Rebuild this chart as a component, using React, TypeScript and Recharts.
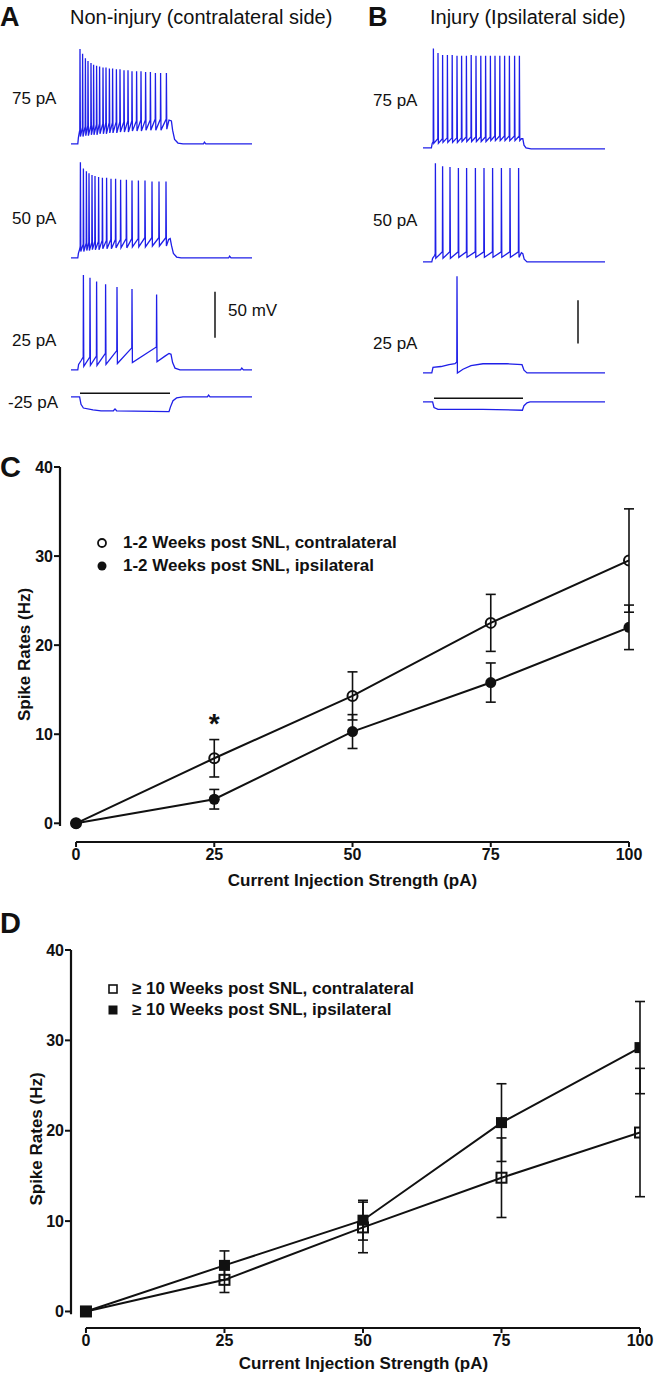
import { ErrorBar, Label, Legend, Line, LineChart, ReferenceDot, ReferenceLine, XAxis, YAxis } from 'recharts'

const FONT = '"Liberation Sans", Arial, Helvetica, sans-serif'
const INK = '#111'
const TRACE_BLUE = '#1f1fe8'

// ---- panels A / B: whole-cell current-clamp sweeps (time in ms, Vm in mV) ----
type Pt = [number, number]
type Sweep = {
  pre: Pt[]
  times: number[]
  onsets: number[]
  peaks: number[]
  troughs: number[]
  post: Pt[]
}

const A_75: Sweep = {
  pre: [[0, -65], [34, -65], [37, -58], [42, -52]],
  times: [45, 58, 72, 85, 100, 113, 128, 143, 160, 175, 192, 208, 227, 245, 265, 285, 305, 328, 350, 373, 397, 422, 448, 477],
  onsets: [-50, -47, -46, -45, -45, -44, -44, -43, -43, -42, -42, -42, -41, -41, -41, -40, -40, -40, -39, -39, -39, -38, -38, -38],
  peaks: [38, 33, 28, 25, 23, 21, 20, 19, 18, 18, 17, 17, 16, 16, 15, 15, 14, 14, 14, 13, 13, 12, 12, 12],
  troughs: [-57, -57, -56, -56, -55, -55, -55, -54, -54, -54, -53, -53, -53, -52, -52, -52, -51, -51, -51, -50, -50, -50, -50, -49],
  post: [[490, -39], [502, -40], [508, -50], [518, -60], [535, -64], [560, -65], [662, -65], [667, -63], [674, -65], [905, -65]],
}

const A_50: Sweep = {
  pre: [[0, -65], [34, -65], [37, -60], [44, -55]],
  times: [47, 62, 77, 90, 105, 120, 138, 157, 178, 200, 223, 248, 277, 305, 337, 370, 405, 440, 475],
  onsets: [-52, -50, -49, -48, -48, -47, -47, -46, -46, -45, -45, -45, -44, -44, -44, -43, -43, -43, -43],
  peaks: [39, 32, 29, 27, 25, 24, 23, 22, 22, 21, 21, 20, 20, 19, 19, 19, 18, 18, 18],
  troughs: [-58, -58, -57, -57, -56, -56, -56, -55, -55, -55, -54, -54, -54, -53, -53, -53, -52, -52, -52],
  post: [[488, -45], [496, -44], [503, -52], [512, -60], [528, -64], [550, -65], [788, -65], [793, -63], [800, -65], [905, -65]],
}

const A_25: Sweep = {
  pre: [[0, -65], [34, -65], [38, -59], [50, -55]],
  times: [62, 95, 128, 173, 230, 305, 428],
  onsets: [-51, -51, -50, -47, -44, -41, -40],
  peaks: [38, 35, 31, 28, 25, 23, 17],
  troughs: [-61, -60, -60, -59, -58, -57, -56],
  post: [[470, -50], [490, -47], [500, -48], [508, -57], [520, -63], [545, -65], [848, -65], [854, -63], [862, -65], [905, -65]],
}

const A_NEG25: Sweep = {
  pre: [[0, -65], [43, -65], [50, -73], [62, -77], [110, -79], [150, -80], [212, -80], [220, -78], [228, -80], [490, -81]],
  times: [],
  onsets: [],
  peaks: [],
  troughs: [],
  post: [[497, -76], [510, -69], [528, -66], [560, -65], [682, -65], [688, -63], [695, -65], [905, -65]],
}

const B_75: Sweep = {
  pre: [[0, -65], [42, -65], [46, -60]],
  times: [52, 75, 98, 122, 146, 170, 193, 217, 241, 265, 289, 313, 337, 360, 384, 408, 432, 458, 482],
  onsets: [-58, -55, -55, -54, -54, -54, -54, -53, -53, -53, -53, -53, -53, -52, -52, -52, -52, -52, -52],
  peaks: [43, 38, 36, 36, 36, 35, 35, 35, 36, 35, 35, 35, 35, 35, 35, 35, 35, 35, 35],
  troughs: [-60, -60, -59, -59, -59, -59, -58, -58, -58, -58, -58, -58, -57, -57, -57, -57, -57, -57, -57],
  post: [[492, -55], [499, -55], [505, -62], [515, -65], [540, -66], [910, -66]],
}

const B_50: Sweep = {
  pre: [[0, -65], [44, -65], [48, -61], [58, -58]],
  times: [62, 98, 135, 177, 218, 262, 305, 348, 392, 435, 478],
  onsets: [-56, -54, -54, -54, -54, -54, -54, -54, -54, -54, -54],
  peaks: [42, 39, 38, 37, 37, 37, 37, 37, 37, 37, 37],
  troughs: [-61, -61, -61, -60, -60, -60, -60, -60, -60, -60, -60],
  post: [[492, -55], [499, -56], [506, -62], [520, -65], [910, -65]],
}

const B_25: Sweep = {
  pre: [[0, -65], [44, -65], [50, -59], [90, -58], [130, -56], [160, -55]],
  times: [170],
  onsets: [-53],
  peaks: [40],
  troughs: [-65],
  post: [[200, -61], [240, -57], [300, -55], [420, -55], [495, -56], [505, -62], [520, -65], [910, -65]],
}

const B_NEG25: Sweep = {
  pre: [[0, -65], [48, -65], [55, -71], [75, -73], [300, -73], [497, -74]],
  times: [],
  onsets: [],
  peaks: [],
  troughs: [],
  post: [[505, -69], [520, -66], [535, -65], [910, -65]],
}

// ---- panels C / D: spike rate (Hz, mean and SEM) against injected current ----
const CURRENT_PA = [0, 25, 50, 75, 100]
const RATE_TICKS = [0, 10, 20, 30, 40]

const C_CONTRA = [0, 7.3, 14.3, 22.5, 29.5]
const C_CONTRA_SEM = [0, 2.1, 2.7, 3.2, 5.8]
const C_IPSI = [0, 2.7, 10.3, 15.8, 22.0]
const C_IPSI_SEM = [0, 1.1, 1.9, 2.2, 2.5]

const D_CONTRA = [0, 3.5, 9.3, 14.8, 19.8]
const D_CONTRA_SEM = [0, 1.4, 2.8, 4.4, 7.1]
const D_IPSI = [0, 5.1, 10.1, 20.9, 29.2]
const D_IPSI_SEM = [0, 1.6, 2.2, 4.3, 5.1]

const C_ROWS = CURRENT_PA.map((x, i) => ({
  x,
  contra: C_CONTRA[i],
  contraErr: C_CONTRA_SEM[i],
  ipsi: C_IPSI[i],
  ipsiErr: C_IPSI_SEM[i],
}))

const D_ROWS = CURRENT_PA.map((x, i) => ({
  x,
  contra: D_CONTRA[i],
  contraErr: D_CONTRA_SEM[i],
  ipsi: D_IPSI[i],
  ipsiErr: D_IPSI_SEM[i],
}))

function sweepPoints(s: Sweep) {
  const pts = s.pre.map(([t, v]) => ({ t, v }))
  s.times.forEach((t, i) => {
    pts.push({ t: t - 1, v: s.onsets[i] }, { t, v: s.peaks[i] }, { t: t + 2, v: s.troughs[i] })
  })
  s.post.forEach(([t, v]) => pts.push({ t, v }))
  return pts
}

type SweepProps = {
  sweep: Sweep
  left: number
  top: number
  width: number
  span: number
  holdBar?: [number, number]
  scaleBar?: [number, number, number]
}

function SweepChart({ sweep, left, top, width, span, holdBar, scaleBar }: SweepProps) {
  return (
    <div style={{ position: 'absolute', left, top }}>
      <LineChart width={width} height={129} data={sweepPoints(sweep)} margin={{ top: 0, right: 0, bottom: 0, left: 0 }}>
        <XAxis type="number" dataKey="t" domain={[0, span]} allowDataOverflow hide />
        <YAxis type="number" domain={[-90, 50]} allowDataOverflow hide />
        <Line
          type="linear"
          dataKey="v"
          stroke={TRACE_BLUE}
          strokeWidth={1.3}
          dot={false}
          activeDot={false}
          isAnimationActive={false}
        />
        {holdBar && (
          <ReferenceLine
            segment={[{ x: holdBar[0], y: -61 }, { x: holdBar[1], y: -61 }]}
            stroke={INK}
            strokeWidth={1.5}
            ifOverflow="visible"
          />
        )}
        {scaleBar && (
          <ReferenceLine
            segment={[{ x: scaleBar[0], y: scaleBar[1] }, { x: scaleBar[0], y: scaleBar[2] }]}
            stroke="#222"
            strokeWidth={1.6}
            ifOverflow="visible"
          />
        )}
      </LineChart>
    </div>
  )
}

type Marker = 'openCircle' | 'filledCircle' | 'openSquare' | 'filledSquare'

function markerIcon(kind: Marker) {
  if (kind === 'openCircle') return <circle cx={6} cy={6} r={4} fill="none" stroke={INK} strokeWidth={1.8} />
  if (kind === 'filledCircle') return <circle cx={6} cy={6} r={4.5} fill={INK} />
  if (kind === 'openSquare') return <rect x={2} y={2} width={8} height={8} fill="none" stroke={INK} strokeWidth={1.6} />
  return <rect x={1.5} y={1.5} width={9} height={9} fill={INK} />
}

function seriesDot(kind: Marker) {
  return (props: any) => {
    const { cx, cy, index } = props
    if (cx == null || cy == null) return <g key={`n-${index}`} />
    if (kind === 'openCircle')
      return <circle key={`oc-${index}`} cx={cx} cy={cy} r={5} fill="none" stroke={INK} strokeWidth={2} />
    if (kind === 'filledCircle') return <circle key={`fc-${index}`} cx={cx} cy={cy} r={5.5} fill={INK} />
    if (kind === 'openSquare')
      return <rect key={`os-${index}`} x={cx - 5} y={cy - 5} width={10} height={10} fill="none" stroke={INK} strokeWidth={2} />
    return <rect key={`fs-${index}`} x={cx - 5.5} y={cy - 5.5} width={11} height={11} fill={INK} />
  }
}

function makeKey(markers: Record<string, Marker>, rowHeight: number, gap: number) {
  return (props: any) => (
    <div style={{ fontFamily: FONT, fontWeight: 700, fontSize: 17, color: INK }}>
      {(props.payload || []).map((entry: any) => (
        <div key={entry.value} style={{ display: 'flex', alignItems: 'center', height: rowHeight, whiteSpace: 'nowrap' }}>
          <svg width={12} height={12} style={{ marginRight: gap }}>
            {markerIcon(markers[entry.dataKey])}
          </svg>
          <span>{entry.value}</span>
        </div>
      ))}
    </div>
  )
}

const tickStyle = { fontSize: 16, fontWeight: 700, fill: INK, fontFamily: FONT }
const titleStyle = { fontSize: 17, fontWeight: 700, fill: INK, fontFamily: FONT }

type RateChartProps = {
  rows: typeof C_ROWS
  top: number
  height: number
  yAxisWidth: number
  right: number
  xAxisHeight: number
  marginTop: number
  xMin: number
  yMin: number
  names: [string, string]
  markers: [Marker, Marker]
  keyPos: { left: number; top: number }
  keyRow: number
  keyGap: number
  yLabelX: number
  xLabelOffset: number
  star?: boolean
}

function RateChart(p: RateChartProps) {
  const markerMap: Record<string, Marker> = { contra: p.markers[0], ipsi: p.markers[1] }
  return (
    <div style={{ position: 'absolute', left: 0, top: p.top }}>
      <LineChart
        width={656}
        height={p.height}
        data={p.rows}
        margin={{ top: p.marginTop, right: p.right, bottom: 0, left: 0 }}
      >
        <XAxis
          type="number"
          dataKey="x"
          domain={[p.xMin, 100]}
          ticks={CURRENT_PA}
          axisLine={false}
          tickLine={{ stroke: INK, strokeWidth: 2 }}
          tickSize={5}
          tickMargin={2}
          height={p.xAxisHeight}
          tick={tickStyle}
          allowDataOverflow
        >
          <Label value="Current Injection Strength (pA)" position="insideBottom" offset={p.xLabelOffset} dx={8} {...titleStyle} />
        </XAxis>
        <YAxis
          type="number"
          domain={[p.yMin, 40]}
          ticks={RATE_TICKS}
          axisLine={false}
          tickLine={{ stroke: INK, strokeWidth: 2 }}
          tickSize={6}
          tickMargin={1}
          width={p.yAxisWidth}
          tick={tickStyle}
          allowDataOverflow
        >
          <Label
            value="Spike Rates (Hz)"
            angle={-90}
            position="insideLeft"
            offset={p.yLabelX}
            style={{ textAnchor: 'middle' }}
            {...titleStyle}
          />
        </YAxis>
        <ReferenceLine
          segment={[{ x: p.xMin, y: -0.3 }, { x: p.xMin, y: 40 }]}
          stroke={INK}
          strokeWidth={2.2}
          ifOverflow="visible"
        />
        <ReferenceLine
          segment={[{ x: 0, y: p.yMin }, { x: 100, y: p.yMin }]}
          stroke={INK}
          strokeWidth={2.2}
          ifOverflow="visible"
        />
        <Legend
          align="center"
          verticalAlign="middle"
          layout="vertical"
          wrapperStyle={{ left: p.keyPos.left, top: p.keyPos.top, width: 'auto', height: 'auto' }}
          content={makeKey(markerMap, p.keyRow, p.keyGap)}
        />
        <Line
          name={p.names[0]}
          dataKey="contra"
          type="linear"
          stroke={INK}
          strokeWidth={2}
          dot={seriesDot(p.markers[0])}
          activeDot={false}
          isAnimationActive={false}
        >
          <ErrorBar dataKey="contraErr" direction="y" width={5} stroke={INK} strokeWidth={1.6} />
        </Line>
        <Line
          name={p.names[1]}
          dataKey="ipsi"
          type="linear"
          stroke={INK}
          strokeWidth={2}
          dot={seriesDot(p.markers[1])}
          activeDot={false}
          isAnimationActive={false}
        >
          <ErrorBar dataKey="ipsiErr" direction="y" width={5} stroke={INK} strokeWidth={1.6} />
        </Line>
        {p.star && (
          <ReferenceDot
            x={25}
            y={11.3}
            r={0}
            label={{ value: '*', position: 'center', fontSize: 28, fontWeight: 700, fill: INK, fontFamily: FONT }}
          />
        )}
      </LineChart>
    </div>
  )
}

const textBase = { position: 'absolute' as const, fontFamily: FONT, color: INK, lineHeight: 1, whiteSpace: 'nowrap' as const }

function Txt({ x, y, size, bold, children }: { x: number; y: number; size: number; bold?: boolean; children: string }) {
  return (
    <div style={{ ...textBase, left: x, top: y - size / 2, fontSize: size, fontWeight: bold ? 700 : 400 }}>{children}</div>
  )
}

export default function App() {
  return (
    <div style={{ position: 'absolute', left: 0, top: 0, width: 656, height: 1375, background: '#fff', overflow: 'hidden' }}>
      <Txt x={0} y={17} size={27} bold>A</Txt>
      <Txt x={70} y={17} size={20}>Non-injury (contralateral side)</Txt>
      <Txt x={368} y={17} size={27} bold>B</Txt>
      <Txt x={430} y={17} size={20}>Injury (Ipsilateral side)</Txt>

      <Txt x={12} y={98} size={17}>75 pA</Txt>
      <Txt x={12} y={218} size={17}>50 pA</Txt>
      <Txt x={12} y={340} size={17}>25 pA</Txt>
      <Txt x={8} y={402} size={17}>-25 pA</Txt>
      <Txt x={228} y={310} size={17}>50 mV</Txt>

      <Txt x={373} y={100} size={17}>75 pA</Txt>
      <Txt x={373} y={220} size={17}>50 pA</Txt>
      <Txt x={373} y={343} size={17}>25 pA</Txt>

      <SweepChart sweep={A_75} left={71} top={38} width={181} span={905} />
      <SweepChart sweep={A_50} left={71} top={152} width={181} span={905} />
      <SweepChart sweep={A_25} left={71} top={264} width={181} span={905} scaleBar={[720, -30, 20]} />
      <SweepChart sweep={A_NEG25} left={71} top={291} width={181} span={905} holdBar={[45, 495]} />

      <SweepChart sweep={B_75} left={423} top={42} width={182} span={910} />
      <SweepChart sweep={B_50} left={423} top={156} width={182} span={910} />
      <SweepChart sweep={B_25} left={423} top={267} width={182} span={910} scaleBar={[775, -33, 14]} />
      <SweepChart sweep={B_NEG25} left={423} top={296} width={182} span={910} holdBar={[55, 500]} />

      <Txt x={0} y={467} size={29} bold>C</Txt>
      <RateChart
        rows={C_ROWS}
        top={440}
        height={460}
        marginTop={27}
        yAxisWidth={60}
        right={27}
        xAxisHeight={58}
        xMin={-2.9}
        yMin={-2.1}
        names={['1-2 Weeks post SNL, contralateral', '1-2 Weeks post SNL, ipsilateral']}
        markers={['openCircle', 'filledCircle']}
        keyPos={{ left: 96, top: 91 }}
        keyRow={23}
        keyGap={15}
        yLabelX={24}
        xLabelOffset={14}
        star
      />

      <Txt x={0} y={923} size={29} bold>D</Txt>
      <RateChart
        rows={D_ROWS}
        top={920}
        height={455}
        marginTop={30}
        yAxisWidth={71}
        right={16}
        xAxisHeight={47}
        xMin={-2.7}
        yMin={-1.83}
        names={['≥ 10 Weeks post SNL, contralateral', '≥ 10 Weeks post SNL, ipsilateral']}
        markers={['openSquare', 'filledSquare']}
        keyPos={{ left: 107, top: 58 }}
        keyRow={21}
        keyGap={13}
        yLabelX={36}
        xLabelOffset={6}
      />
    </div>
  )
}
